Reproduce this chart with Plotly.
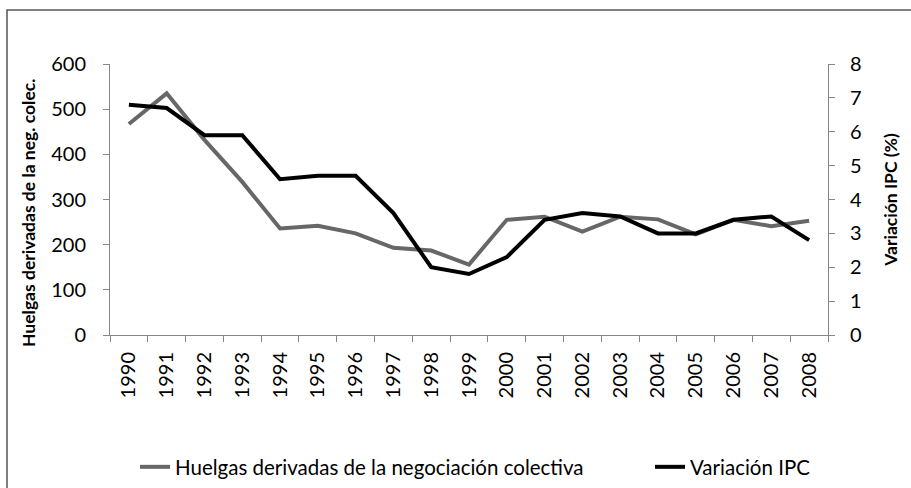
import plotly.graph_objects as go

years = [str(y) for y in range(1990, 2009)]
huelgas = [467, 535, 432, 339, 236, 242, 225, 193, 187, 156,
           255, 262, 229, 262, 256, 223, 255, 241, 253]
ipc = [6.8, 6.7, 5.9, 5.9, 4.6, 4.7, 4.7, 3.6, 2.0, 1.8,
       2.3, 3.4, 3.6, 3.5, 3.0, 3.0, 3.4, 3.5, 2.8]
left_ticks = [0, 100, 200, 300, 400, 500, 600]
right_ticks = [0, 1, 2, 3, 4, 5, 6, 7, 8]

FONT = "Lato"
AX = "#868686"

fig = go.Figure()
fig.add_trace(go.Scatter(
    x=years, y=huelgas, mode="lines", name="Huelgas derivadas de la negociación colectiva",
    line=dict(color="#676767", width=4), yaxis="y", legend="legend"))
fig.add_trace(go.Scatter(
    x=years, y=ipc, mode="lines", name="Variación IPC",
    line=dict(color="#000000", width=4), yaxis="y2", legend="legend2"))

W, H = 911, 488
ml, mr, mt, mb = 110, 83, 64, 153
pw, ph = W - ml - mr, H - mt - mb

def px2paper_x(px):
    return (px - ml) / pw

def px2paper_y(py):
    return (H - mb - py) / ph

legend_common = dict(
    orientation="h", xanchor="left", yanchor="middle", y=px2paper_y(467),
    font=dict(size=20.5, family=FONT), bgcolor="rgba(0,0,0,0)")

fig.update_layout(
    width=W, height=H,
    margin=dict(l=ml, r=mr, t=mt, b=mb, autoexpand=False),
    paper_bgcolor="white", plot_bgcolor="white",
    font=dict(family=FONT, color="#000000"),
    showlegend=True,
    xaxis=dict(
        type="category", showgrid=False, showline=True, linecolor=AX, linewidth=1,
        ticks="outside", tickson="boundaries", ticklen=6, tickcolor=AX,
        tickangle=-90, tickfont=dict(size=20, family=FONT), ticklabelstandoff=8,
        zeroline=False, range=[-0.5, 18.5], automargin=False),
    yaxis=dict(
        range=[0, 600], tickvals=left_ticks, showgrid=False, showline=True,
        linecolor=AX, ticks="outside", ticklen=6, tickcolor=AX,
        tickfont=dict(size=20, family=FONT), ticklabelstandoff=13, zeroline=False,
        automargin=False),
    yaxis2=dict(
        range=[0, 8], tickvals=right_ticks, overlaying="y", side="right",
        showgrid=False, showline=True, linecolor=AX, ticks="outside", ticklen=6,
        tickcolor=AX, tickfont=dict(size=20, family=FONT), ticklabelstandoff=11,
        zeroline=False, automargin=False,
        title=dict(text="<b>Variación IPC (%)</b>",
                   font=dict(size=17.5, family=FONT), standoff=23)),
    legend=dict(legend_common, x=px2paper_x(135)),
    legend2=dict(legend_common, x=px2paper_x(650)),
    annotations=[dict(
        text="<b>Huelgas derivadas de la neg. colec.</b>", textangle=-90,
        xref="paper", yref="paper", x=px2paper_x(28), y=px2paper_y(213),
        xanchor="center", yanchor="middle", showarrow=False,
        font=dict(size=17.5, family=FONT, color="#000000"))],
    shapes=[dict(
        type="rect", xref="paper", yref="paper",
        x0=px2paper_x(7), x1=px2paper_x(920), y0=px2paper_y(500), y1=px2paper_y(10),
        line=dict(color="#555555", width=1.5), fillcolor="rgba(0,0,0,0)", layer="below")],
)

fig.write_html("out.html", config={"displayModeBar": False},
               post_script="document.body.style.margin='0';")
